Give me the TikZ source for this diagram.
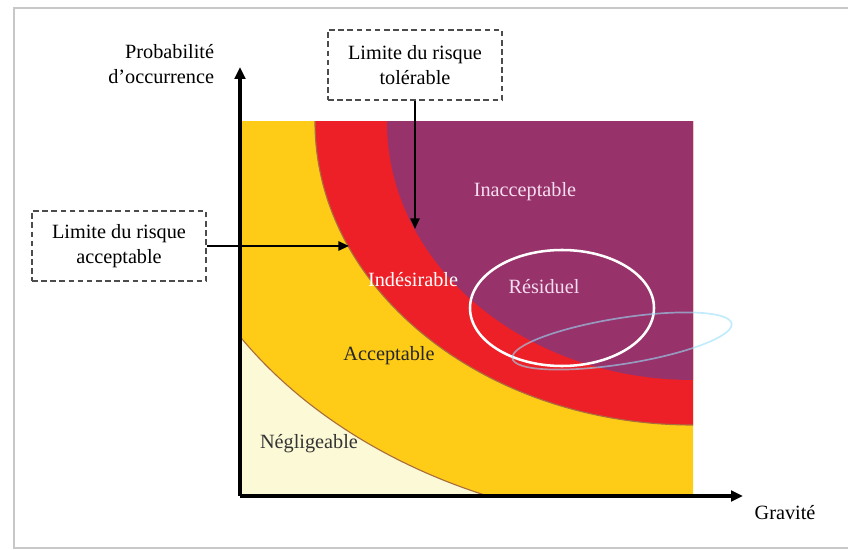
\documentclass[tikz,border=0pt]{standalone}
\usepackage{fontspec}
\setmainfont{Liberation Serif}
\usetikzlibrary{positioning,arrows.meta}

\definecolor{creme}{RGB}{252,249,214}
\definecolor{jaune}{RGB}{254,204,22}
\definecolor{rouge}{RGB}{237,32,40}
\definecolor{prune}{RGB}{152,50,106}
\definecolor{brun}{RGB}{170,110,60}
\definecolor{rose}{RGB}{246,222,240}
\definecolor{cadre}{RGB}{200,200,200}

\begin{document}
\begin{tikzpicture}[%
    x=0.025cm,
    y=-0.025cm,
    >={Triangle[length=8.5pt,width=7.5pt]},
    font=\fontsize{14.4}{17.8}\selectfont,
    limite/.style={%
      draw=gray!60!black,
      dash pattern=on 4pt off 2.5pt,
      line width=1.1pt,
      align=center,
      minimum width=4.35cm,
      minimum height=1.75cm
    },
    axe/.style={line width=2.2pt,->},
    fleche/.style={line width=1.4pt,->,>={Triangle[length=7.5pt,width=6.5pt]}},
    zone/.style={inner sep=0pt}
  ]
    \useasboundingbox (0,0) rectangle (848,550);
    \draw[cadre,line width=1.5pt] (848,8) -- (14,8) -- (14,548) -- (848,548);

    % zones de risque
    \begin{scope}
      \clip (240,122) rectangle (693,496);
      \fill[creme] (240,122) rectangle (693,496);
      \filldraw[fill=jaune,draw=brun,line width=0.8pt] (693,122) ellipse [x radius=534, y radius=405];
      \filldraw[fill=rouge,draw=brun,line width=0.8pt] (693,122) ellipse [x radius=378, y radius=303];
      \fill[prune] (693,122) ellipse [x radius=306, y radius=258];
    \end{scope}

    % axes
    \coordinate (O)    at (240,496);
    \coordinate (ymax) at (240,67);
    \coordinate (xmax) at (743,496);
    \draw[axe] (O) -- (ymax);
    \draw[axe] (O) -- (xmax);
    \node[anchor=east,align=right] (proba) at (219,64) {Probabilité\\d’occurrence};
    \node (gravite) at (785,513) {Gravité};

    % limites
    \node[limite] (tol) at (415,65)  {Limite du risque\\tolérable};
    \node[limite] (acc) at (119,246) {Limite du risque\\acceptable};
    \coordinate (pointeTol) at (415,229);
    \coordinate (pointeAcc) at (349,246);
    \path (tol.south) edge[fleche] (pointeTol)
          (acc.east)  edge[fleche] (pointeAcc);

    % ellipses
    \coordinate (residuel) at (562,308);
    \draw[white,line width=1.8pt] (residuel) ellipse [x radius=92, y radius=58];
    \draw[cyan!40!white,opacity=0.6,line width=1.2pt,rotate around={9:(622,341)}]
      (622,341) ellipse [x radius=111, y radius=23];

    % libelles
    \node[zone,text=rose]              (inacc) at (525,192) {Inacceptable};
    \node[zone,text=white]             (indes) at (413,280) {Indésirable};
    \node[zone,text=rose]              (resid) at (544,287) {Résiduel};
    \node[zone,text=black!85]          (accep) at (389,356) {Acceptable};
    \node[zone,text=black!80]          (negli) at (309,444) {Négligeable};
  \end{tikzpicture}
\end{document}
